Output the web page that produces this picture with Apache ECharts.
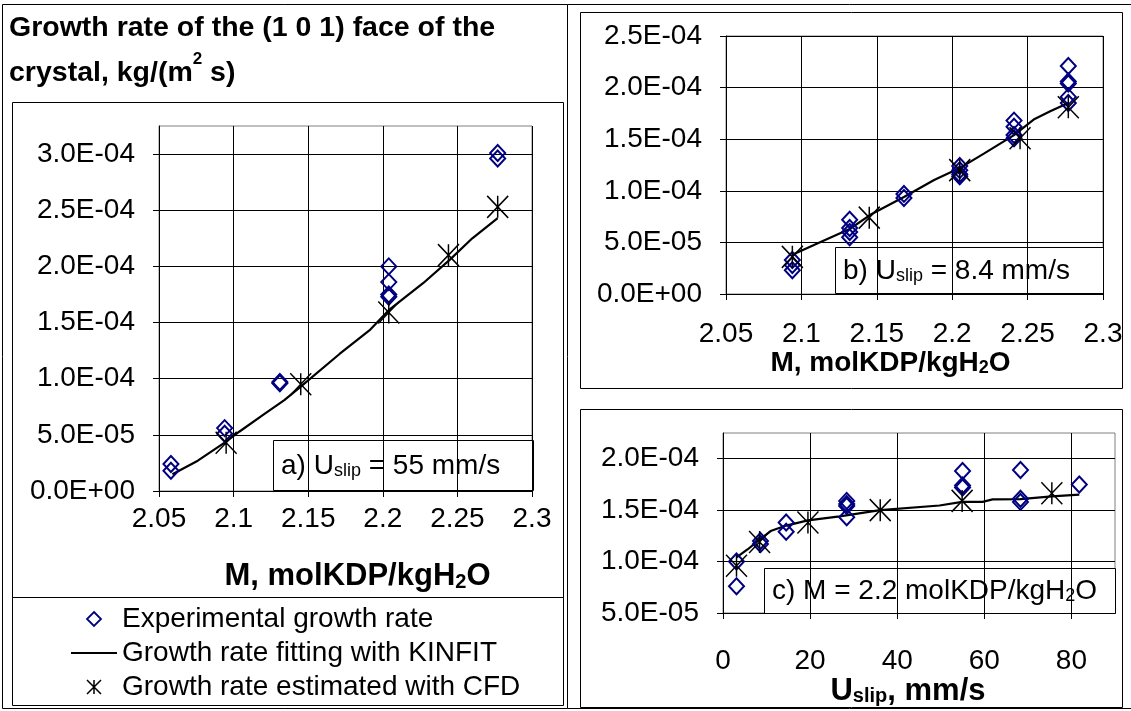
<!DOCTYPE html>
<html>
<head>
<meta charset="utf-8">
<title>Growth rate of the (1 0 1) face of the crystal</title>
<script src="https://cdn.jsdelivr.net/npm/echarts@6/dist/echarts.min.js"></script>
<style>
  html, body { margin: 0; padding: 0; background: #fff; }
  #chart { width: 1131px; height: 711px; }
</style>
</head>
<body>
<div id="chart"></div>
<script>
// ---- Panel a: U_slip = 55 mm/s, growth rate vs. molality ----
const aExpM = [2.058, 2.058, 2.094, 2.094, 2.131, 2.131, 2.204, 2.204, 2.204, 2.204, 2.277, 2.277];
const aExpG = [2.4e-5, 1.8e-5, 5.6e-5, 5.1e-5, 9.7e-5, 9.6e-5, 2.0e-4, 1.86e-4, 1.75e-4, 1.73e-4, 3.01e-4, 2.96e-4];
const aCfdM = [2.095, 2.145, 2.204, 2.244, 2.277];
const aCfdG = [4.3e-5, 9.5e-5, 1.59e-4, 2.10e-4, 2.53e-4];
const aFitM = [2.059, 2.076, 2.094, 2.104, 2.120, 2.134, 2.145, 2.171, 2.191, 2.204, 2.227, 2.245, 2.260, 2.277];
const aFitG = [1.5e-5, 2.7e-5, 4.3e-5, 5.3e-5, 6.8e-5, 8.1e-5, 9.3e-5, 1.22e-4, 1.43e-4, 1.61e-4, 1.85e-4, 2.06e-4, 2.25e-4, 2.43e-4];

// ---- Panel b: U_slip = 8.4 mm/s ----
const bExpM = [2.094, 2.094, 2.094, 2.132, 2.132, 2.132, 2.132, 2.168, 2.168, 2.205, 2.205, 2.205, 2.205,
               2.241, 2.241, 2.241, 2.241, 2.277, 2.277, 2.277, 2.277, 2.277];
const bExpG = [3.3e-5, 2.8e-5, 2.3e-5, 7.2e-5, 6.4e-5, 6.0e-5, 5.5e-5, 9.7e-5, 9.3e-5, 1.24e-4, 1.20e-4, 1.16e-4, 1.14e-4,
               1.68e-4, 1.62e-4, 1.54e-4, 1.51e-4, 2.21e-4, 2.06e-4, 2.04e-4, 1.91e-4, 1.85e-4];
const bCfdM = [2.094, 2.145, 2.205, 2.245, 2.277];
const bCfdG = [3.6e-5, 7.4e-5, 1.20e-4, 1.51e-4, 1.81e-4];
const bFitM = [2.094, 2.112, 2.132, 2.146, 2.168, 2.188, 2.205, 2.221, 2.241, 2.254, 2.265, 2.277];
const bFitG = [3.8e-5, 5.0e-5, 6.3e-5, 7.7e-5, 9.4e-5, 1.105e-4, 1.22e-4, 1.36e-4, 1.54e-4, 1.69e-4, 1.77e-4, 1.85e-4];

// ---- Panel c: M = 2.2 molKDP/kgH2O, growth rate vs. slip velocity ----
const cExpU = [3.1, 3.1, 8.6, 8.6, 14.5, 14.5, 28.4, 28.4, 28.4, 28.4, 55, 55, 55, 68.3, 68.3, 68.3, 81.8];
const cExpG = [1.0e-4, 7.6e-5, 1.2e-4, 1.17e-4, 1.38e-4, 1.29e-4, 1.59e-4, 1.56e-4, 1.54e-4, 1.43e-4,
               1.88e-4, 1.74e-4, 1.72e-4, 1.89e-4, 1.61e-4, 1.58e-4, 1.75e-4];
const cCfdU = [3.1, 8.4, 19.5, 36.1, 54.9, 75.5];
const cCfdG = [9.6e-5, 1.19e-4, 1.38e-4, 1.50e-4, 1.59e-4, 1.665e-4];
const cFitU = [3.1, 5.7, 8.6, 11.1, 14.5, 19.5, 26.8, 36.1, 49.7, 54.9, 59.6, 61.9, 68.3, 75.5, 81.8];
const cFitG = [1.04e-4, 1.12e-4, 1.22e-4, 1.30e-4, 1.35e-4, 1.40e-4, 1.44e-4, 1.50e-4, 1.545e-4, 1.58e-4,
               1.58e-4, 1.605e-4, 1.607e-4, 1.633e-4, 1.65e-4];

// ---- Tick labels ----
const mTicks = [2.05, 2.1, 2.15, 2.2, 2.25, 2.3];
const aGrowthTicks = [0, 5e-5, 1e-4, 1.5e-4, 2e-4, 2.5e-4, 3e-4];
const bGrowthTicks = [0, 5e-5, 1e-4, 1.5e-4, 2e-4, 2.5e-4];
const cGrowthTicks = [5e-5, 1e-4, 1.5e-4, 2e-4];
const uTicks = [0, 20, 40, 60, 80];

const SERIES_EXP = 'Experimental growth rate';
const SERIES_FIT = 'Growth rate fitting with KINFIT';
const SERIES_CFD = 'Growth rate estimated with CFD';

const FONT = '"Liberation Sans", Arial, sans-serif';
const NAVY = '#000080';
const STAR = 'path://M0,0L20,20M20,0L0,20M10,0L10,20';
const DIAMOND = 'path://M10,0L20,10L10,20L0,10Z';
const DASH = 'path://M0,0h44v2h-44z';

const zip = (xs, ys) => xs.map((x, i) => [x, ys[i]]);

// Excel-style scientific label: 3.0E-04, 0.0E+00
function sci(v) {
  const s = (+v.toPrecision(8)).toExponential(1);
  const parts = s.split('e');
  const n = parseInt(parts[1], 10);
  return parts[0] + 'E' + (n < 0 ? '-' : '+') + String(Math.abs(n)).padStart(2, '0');
}
const dec = v => String(+(+v).toFixed(2));

const tickLabel = { fontFamily: FONT, fontSize: 28, color: '#000' };
function nameStyle(size, padding) {
  return {
    fontFamily: FONT, fontSize: size, fontWeight: 'bold', color: '#000', padding,
    rich: { s: { fontFamily: FONT, fontSize: Math.round(size * 0.63), fontWeight: 'bold', lineHeight: 10, verticalAlign: 'bottom', color: '#000' } }
  };
}
const axisLine = { show: true, onZero: false, lineStyle: { color: '#000', width: 1 } };
const axisTick = { show: true, inside: false, length: 6, lineStyle: { color: '#000', width: 1 } };
const splitLine = { show: true, lineStyle: { color: '#000', width: 1 } };

function mAxis(gridIndex, labelMargin, nameGap, nameFont, namePad) {
  return {
    type: 'value', gridIndex, min: 2.05, max: 2.3, interval: 0.05,
    axisLine, axisTick: Object.assign({ customValues: mTicks }, axisTick), splitLine,
    axisLabel: Object.assign({ customValues: mTicks, margin: labelMargin, formatter: dec }, tickLabel),
    name: 'M, molKDP/kgH{s|2}O', nameLocation: 'middle', nameGap, nameTextStyle: nameStyle(nameFont, namePad)
  };
}
function gAxis(gridIndex, min, max, ticks) {
  return {
    type: 'value', gridIndex, min, max, interval: 5e-5,
    axisLine, axisTick: Object.assign({ customValues: ticks }, axisTick), splitLine,
    axisLabel: Object.assign({ customValues: ticks, margin: 24, formatter: sci }, tickLabel)
  };
}

function expSeries(i, xs, ys) {
  return {
    name: SERIES_EXP, type: 'scatter', xAxisIndex: i, yAxisIndex: i, data: zip(xs, ys),
    symbol: 'diamond', symbolSize: [15, 16], z: 3,
    itemStyle: { color: 'rgba(255,255,255,0)', borderColor: NAVY, borderWidth: 2, opacity: 1 }
  };
}
function fitSeries(i, xs, ys) {
  return {
    name: SERIES_FIT, type: 'line', xAxisIndex: i, yAxisIndex: i, data: zip(xs, ys),
    symbol: 'none', showSymbol: false, smooth: false, z: 2,
    lineStyle: { color: '#000', width: 2.2 }, itemStyle: { color: '#000' }
  };
}
function cfdSeries(i, xs, ys) {
  return {
    name: SERIES_CFD, type: 'scatter', xAxisIndex: i, yAxisIndex: i, data: zip(xs, ys),
    symbol: STAR, symbolSize: [21, 22], z: 4,
    itemStyle: { color: 'rgba(0,0,0,0)', borderColor: '#000', borderWidth: 1.5, opacity: 1 }
  };
}

const subRich = {
  s: { fontFamily: FONT, fontSize: 18, lineHeight: 10, verticalAlign: 'bottom', fill: '#000', color: '#000' }
};
function noteBox(x, y, w, h, text) {
  return {
    type: 'group', z: 50,
    children: [
      { type: 'rect', shape: { x: x + 0.5, y: y + 0.5, width: w, height: h },
        style: { fill: '#fff', stroke: '#000', lineWidth: 1 } },
      { type: 'text', x: x + 8, y: y + h / 2 + 1,
        style: { text, fontFamily: FONT, fontSize: 28, fill: '#000', verticalAlign: 'middle', rich: subRich } }
    ]
  };
}
function frame(x, y, w, h) {
  return { type: 'rect', z: 0, silent: true, shape: { x: x + 0.5, y: y + 0.5, width: w, height: h },
           style: { fill: 'none', stroke: '#000', lineWidth: 1 } };
}

const chart = echarts.init(document.getElementById('chart'), null, { renderer: 'canvas' });
chart.setOption({
  animation: false,
  backgroundColor: '#fff',
  title: {
    left: 9, top: 6, padding: 0,
    text: 'Growth rate of the (1 0 1) face of the\ncrystal, kg/(m{sup|2} s)',
    textStyle: {
      fontFamily: FONT, fontSize: 28.5, fontWeight: 'bold', color: '#000', lineHeight: 45,
      rich: { sup: { fontFamily: FONT, fontSize: 17, fontWeight: 'bold', lineHeight: 36, verticalAlign: 'top', color: '#000' } }
    }
  },
  legend: {
    orient: 'vertical', left: 66, top: 600, itemWidth: 46, itemHeight: 14, itemGap: 6,
    selectedMode: false, symbolKeepAspect: true,
    textStyle: { fontFamily: FONT, fontSize: 28, color: '#000' },
    data: [
      { name: SERIES_EXP, icon: DIAMOND, itemStyle: { color: 'rgba(255,255,255,0)', borderColor: NAVY, borderWidth: 1.8, opacity: 1 } },
      { name: SERIES_FIT, icon: DASH, itemStyle: { color: '#000', borderWidth: 0, opacity: 1 } },
      { name: SERIES_CFD, icon: STAR, itemStyle: { color: 'rgba(0,0,0,0)', borderColor: '#000', borderWidth: 1.5, opacity: 1 } }
    ]
  },
  grid: [
    { left: 159, top: 126, width: 373, height: 365, show: true, borderColor: '#808080', borderWidth: 1, backgroundColor: '#fff' },
    { left: 726, top: 36, width: 377, height: 258, show: true, borderColor: '#808080', borderWidth: 1, backgroundColor: '#fff' },
    { left: 723, top: 433, width: 392, height: 180, show: true, borderColor: '#808080', borderWidth: 1, backgroundColor: '#fff' }
  ],
  xAxis: [
    mAxis(0, 14, 70, 31, [0, 0, 0, 24]),
    mAxis(1, 26, 55, 28, [0, 48, 0, 0]),
    {
      type: 'value', gridIndex: 2, min: 0, max: 90, interval: 20,
      axisLine, axisTick: Object.assign({ customValues: uTicks }, axisTick), splitLine,
      axisLabel: Object.assign({ customValues: uTicks, margin: 34 }, tickLabel),
      name: 'U{s|slip}, mm/s', nameLocation: 'middle', nameGap: 62, nameTextStyle: nameStyle(31, [0, 22, 0, 0])
    }
  ],
  yAxis: [
    gAxis(0, 0, 3.25e-4, aGrowthTicks),
    gAxis(1, 0, 2.5e-4, bGrowthTicks),
    gAxis(2, 5e-5, 2.25e-4, cGrowthTicks)
  ],
  series: [
    fitSeries(0, aFitM, aFitG), expSeries(0, aExpM, aExpG), cfdSeries(0, aCfdM, aCfdG),
    fitSeries(1, bFitM, bFitG), expSeries(1, bExpM, bExpG), cfdSeries(1, bCfdM, bCfdG),
    fitSeries(2, cFitU, cFitG), expSeries(2, cExpU, cExpG), cfdSeries(2, cCfdU, cCfdG)
  ],
  graphic: [
    frame(2, 4, 1140, 704),
    { type: 'line', z: 0, silent: true, shape: { x1: 567.5, y1: 4.5, x2: 567.5, y2: 708.5 }, style: { stroke: '#000', lineWidth: 1 } },
    frame(12, 102, 551, 495),
    frame(12, 597, 551, 108),
    frame(580, 12, 542, 376),
    frame(580, 409, 542, 298),
    noteBox(273, 440, 260, 50, 'a) U{s|slip} = 55 mm/s'),
    noteBox(835, 247, 268, 46, 'b) U{s|slip} = 8.4 mm/s'),
    noteBox(764, 568, 351, 45, 'c) M = 2.2 molKDP/kgH{s|2}O')
  ]
});
</script>
</body>
</html>
